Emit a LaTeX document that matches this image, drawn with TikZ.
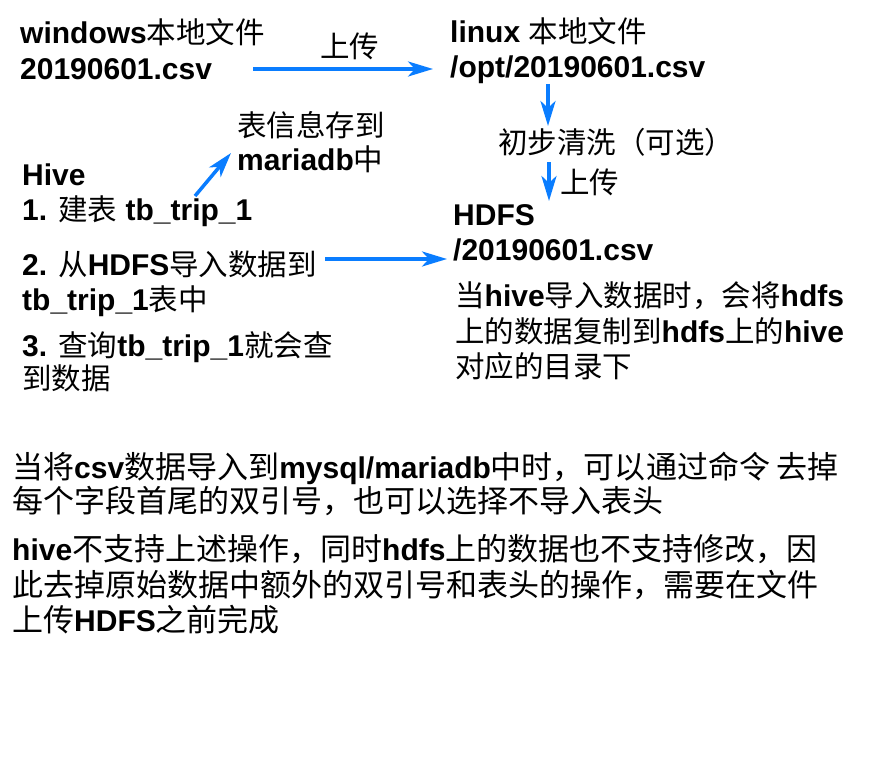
\documentclass[tikz,border=0pt]{standalone}
\usepackage{fontspec}
\setmainfont{Liberation Sans}
\newfontfamily\cjk{Noto Sans CJK SC}
\usetikzlibrary{arrows.meta}
\definecolor{arrowblue}{RGB}{10,125,255}
\newcommand\zh[1]{{\cjk\mdseries\fontsize{29.5}{36}\selectfont #1}}
\newcommand\zhb[1]{{\cjk\mdseries\fontsize{31}{36}\selectfont #1}}
\begin{document}
\begin{tikzpicture}[x=1pt,y=-1pt,
  txt/.style={inner sep=0pt, anchor=base west, font=\fontsize{30}{36}\selectfont\bfseries},
  arr/.style={draw=arrowblue, line width=3.5pt, -{Stealth[length=25pt,width=15pt,inset=7pt]}}]
\fill[white] (0,0) rectangle (885,781);
\useasboundingbox (0,0) rectangle (885,781);
% top left
\node[txt] (w1) at (20,44) {windows\zh{本地文件}};
\node[txt] (w2) at (20,80) {20190601.csv};
\node[txt] (up1) at (320,58) {\zh{上传}};
% top right
\node[txt] (l1) at (450,43) {linux \zh{本地文件}};
\node[txt] (l2) at (450,78) {/opt/20190601.csv};
\node[txt] (clean) at (498,153) {\zh{初步清洗（可选）}};
\node[txt] (up2) at (560,193) {\zh{上传}};
\node[txt] (h1) at (453,225) {HDFS};
\node[txt] (h2) at (453,260) {/20190601.csv};
% metadata
\node[txt] (meta1) at (237,136) {\zh{表信息存到}};
\node[txt] (meta2) at (237,170) {mariadb\zh{中}};
% hive steps
\node[txt] (hive) at (22,185) {Hive};
\node[txt] (s1) at (22,220) {1. \zh{建表} tb\_trip\_1};
\node[txt] (s2a) at (22,275) {2. \zh{从}HDFS\zh{导入数据到}};
\node[txt] (s2b) at (22,310) {tb\_trip\_1\zh{表中}};
\node[txt] (s3a) at (22,356) {3. \zh{查询}tb\_trip\_1\zh{就会查}};
\node[txt] (s3b) at (22,389) {\zh{到数据}};
% note right
\node[txt] (n1) at (455,306) {\zh{当}hive\zh{导入数据时，会将}hdfs};
\node[txt] (n2) at (455,342) {\zh{上的数据复制到}hdfs\zh{上的}hive};
\node[txt] (n3) at (455,377) {\zh{对应的目录下}};
% bottom notes
\node[txt] (b1) at (12,478) {\zhb{当将}csv\zhb{数据导入到}mysql/mariadb\zhb{中时，可以通过命令 去掉}};
\node[txt] (b2) at (12,512) {\zhb{每个字段首尾的双引号，也可以选择不导入表头}};
\node[txt] (b3) at (12,560) {hive\zhb{不支持上述操作，同时}hdfs\zhb{上的数据也不支持修改，因}};
\node[txt] (b4) at (12,596) {\zhb{此去掉原始数据中额外的双引号和表头的操作，需要在文件}};
\node[txt] (b5) at (12,631) {\zhb{上传}HDFS\zhb{之前完成}};
% arrows
\coordinate (a1s) at (253,69);  \coordinate (a1e) at (433,69);
\coordinate (a2s) at (548,84);  \coordinate (a2e) at (548,126);
\coordinate (a3s) at (549,162); \coordinate (a3e) at (549,201);
\coordinate (a4s) at (195,196); \coordinate (a4e) at (231,153);
\coordinate (a5s) at (325,259); \coordinate (a5e) at (447,259);
\draw[arr] (a1s) -- (a1e);
\draw[arr] (a2s) -- (a2e);
\draw[arr] (a3s) -- (a3e);
\draw[arr] (a4s) -- (a4e);
\draw[arr] (a5s) -- (a5e);
\end{tikzpicture}
\end{document}
